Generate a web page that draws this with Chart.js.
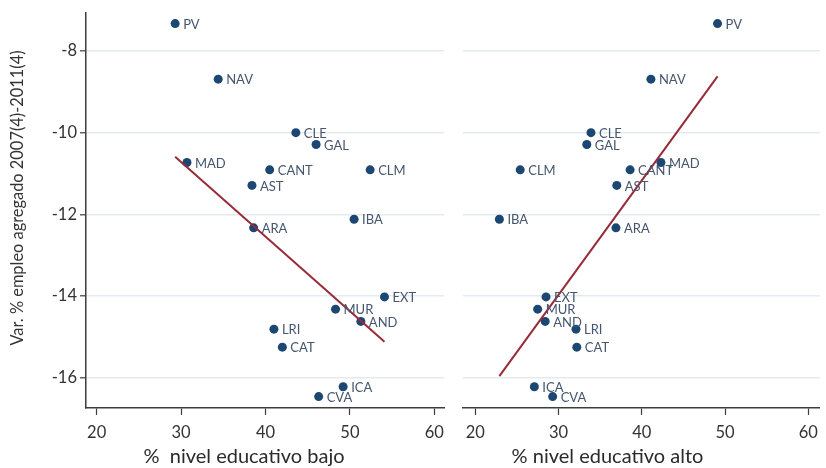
<!DOCTYPE html>
<html>
<head>
<meta charset="utf-8">
<script src="https://cdn.jsdelivr.net/npm/chart.js@4.4.1/dist/chart.umd.min.js"></script>
<style>
  html, body { margin: 0; padding: 0; background: #ffffff; }
  #wrap { position: relative; width: 826px; height: 468px; overflow: hidden; }
  #cL { position: absolute; left: 0; top: 0; }
  #cR { position: absolute; left: 452px; top: 0; }
</style>
</head>
<body>
<div id="wrap">
  <canvas id="cL" width="452" height="468"></canvas>
  <canvas id="cR" width="374" height="468"></canvas>
</div>
<script>
// Comunidades autónomas
const regions = ['PV', 'NAV', 'CLE', 'GAL', 'MAD', 'CANT', 'CLM', 'AST', 'IBA',
                 'ARA', 'EXT', 'MUR', 'AND', 'LRI', 'CAT', 'ICA', 'CVA'];
// Var. % empleo agregado 2007(4)-2011(4)
const empleoVar = [-7.33, -8.69, -10.00, -10.29, -10.73, -10.91, -10.91, -11.29, -12.12,
                   -12.33, -14.02, -14.32, -14.62, -14.81, -15.25, -16.22, -16.46];
// % nivel educativo bajo / alto
const eduBajo = [29.3, 34.4, 43.6, 46.0, 30.7, 40.5, 52.4, 38.4, 50.5,
                 38.6, 54.1, 48.3, 51.3, 41.0, 42.0, 49.2, 46.3];
const eduAlto = [49.1, 41.1, 33.9, 33.4, 42.3, 38.6, 25.4, 37.0, 22.9,
                 36.9, 28.5, 27.5, 28.4, 32.1, 32.2, 27.1, 29.3];
// Rectas de ajuste (extremos)
const fitBajoX = [29.3, 54.1];
const fitBajoY = [-10.59, -15.12];
const fitAltoX = [22.9, 49.1];
const fitAltoY = [-15.96, -8.62];
// Marcas de los ejes
const xTicks = [20, 30, 40, 50, 60];
const yTicks = [-16, -14, -12, -10, -8];

const FONT = 'Lato, "Open Sans", sans-serif';
const AXIS = '#3c3c3c';
const GRID = '#e4ebef';
const DOT = '#1c4772';
const LABEL = '#45566e';
const FIT = '#972b38';

const pts = (xs, ys) => xs.map((x, i) => ({ x: x, y: ys[i] }));
const setTicks = vals => scale => { scale.ticks = vals.map(v => ({ value: v })); };

// Etiqueta de cada comunidad a la derecha de su punto
const pointLabels = {
  id: 'pointLabels',
  afterDatasetsDraw(chart) {
    const ctx = chart.ctx;
    const meta = chart.getDatasetMeta(1);
    ctx.save();
    ctx.font = '13px ' + FONT;
    ctx.fillStyle = LABEL;
    ctx.textAlign = 'left';
    ctx.textBaseline = 'middle';
    meta.data.forEach((el, i) => {
      ctx.fillText(regions[i], el.x + 8, el.y + 1);
    });
    ctx.restore();
  }
};

// Títulos de los ejes
const axisTitles = {
  id: 'axisTitles',
  afterDraw(chart, args, opts) {
    const ctx = chart.ctx;
    ctx.save();
    ctx.fillStyle = '#2a2a2a';
    ctx.textAlign = 'center';
    ctx.textBaseline = 'middle';
    ctx.font = '20px ' + FONT;
    ctx.fillText(opts.xText, opts.xCenter, 457);
    if (opts.yText) {
      ctx.translate(18, 198);
      ctx.rotate(-Math.PI / 2);
      ctx.font = '16.4px ' + FONT;
      ctx.fillStyle = '#333333';
      ctx.fillText(opts.yText, 0, 0);
    }
    ctx.restore();
  }
};

function makeChart(id, xs, fitX, fitY, titles, xMin, xMax, isLeft) {
  const yScale = isLeft ? {
    type: 'linear', min: -16.74, max: -7.07,
    afterBuildTicks: setTicks(yTicks),
    afterFit: s => { s.width = 86; },
    grid: { color: GRID, lineWidth: 1.6, drawTicks: true, tickLength: 6, tickColor: AXIS, tickWidth: 1.2 },
    border: { display: true, color: AXIS, width: 1.5 },
    ticks: { font: { family: FONT, size: 16.5 }, color: '#333333', padding: 3 }
  } : {
    type: 'linear', min: -16.74, max: -7.07,
    afterBuildTicks: setTicks(yTicks),
    afterFit: s => { s.width = 0; },
    grid: { color: GRID, lineWidth: 1.6, drawTicks: false },
    border: { display: false },
    ticks: { display: false }
  };
  return new Chart(document.getElementById(id), {
    type: 'scatter',
    data: {
      datasets: [
        {
          type: 'line',
          data: pts(fitX, fitY),
          borderColor: FIT,
          borderWidth: 2,
          pointRadius: 0,
          fill: false,
          tension: 0
        },
        {
          data: pts(xs, empleoVar),
          backgroundColor: DOT,
          borderColor: DOT,
          pointRadius: 4.5,
          pointBorderWidth: 0
        }
      ]
    },
    options: {
      responsive: false,
      animation: false,
      devicePixelRatio: 1,
      layout: { padding: { top: 13, right: isLeft ? 4 : 0, left: isLeft ? 0 : 11, bottom: 0 } },
      plugins: { legend: { display: false }, tooltip: { enabled: false }, axisTitles: titles },
      scales: {
        x: {
          type: 'linear', min: xMin, max: xMax,
          afterBuildTicks: setTicks(xTicks),
          afterFit: s => { s.height = 60; },
          grid: { drawOnChartArea: false, drawTicks: true, tickLength: 7, tickColor: AXIS, tickWidth: 1.2 },
          border: { display: true, color: AXIS, width: 1.5 },
          ticks: { font: { family: FONT, size: 16.5 }, color: '#333333', padding: 8, maxRotation: 0 }
        },
        y: yScale
      }
    },
    plugins: [pointLabels, axisTitles]
  });
}

makeChart('cL', eduBajo, fitBajoX, fitBajoY,
  { xText: '%  nivel educativo bajo', xCenter: 244, yText: 'Var. % empleo agregado 2007(4)-2011(4)' },
  18.74, 61.19, true);
makeChart('cR', eduAlto, fitAltoX, fitAltoY,
  { xText: '% nivel educativo alto', xCenter: 607.5 - 452, yText: '' },
  18.53, 61.38, false);
</script>
</body>
</html>
